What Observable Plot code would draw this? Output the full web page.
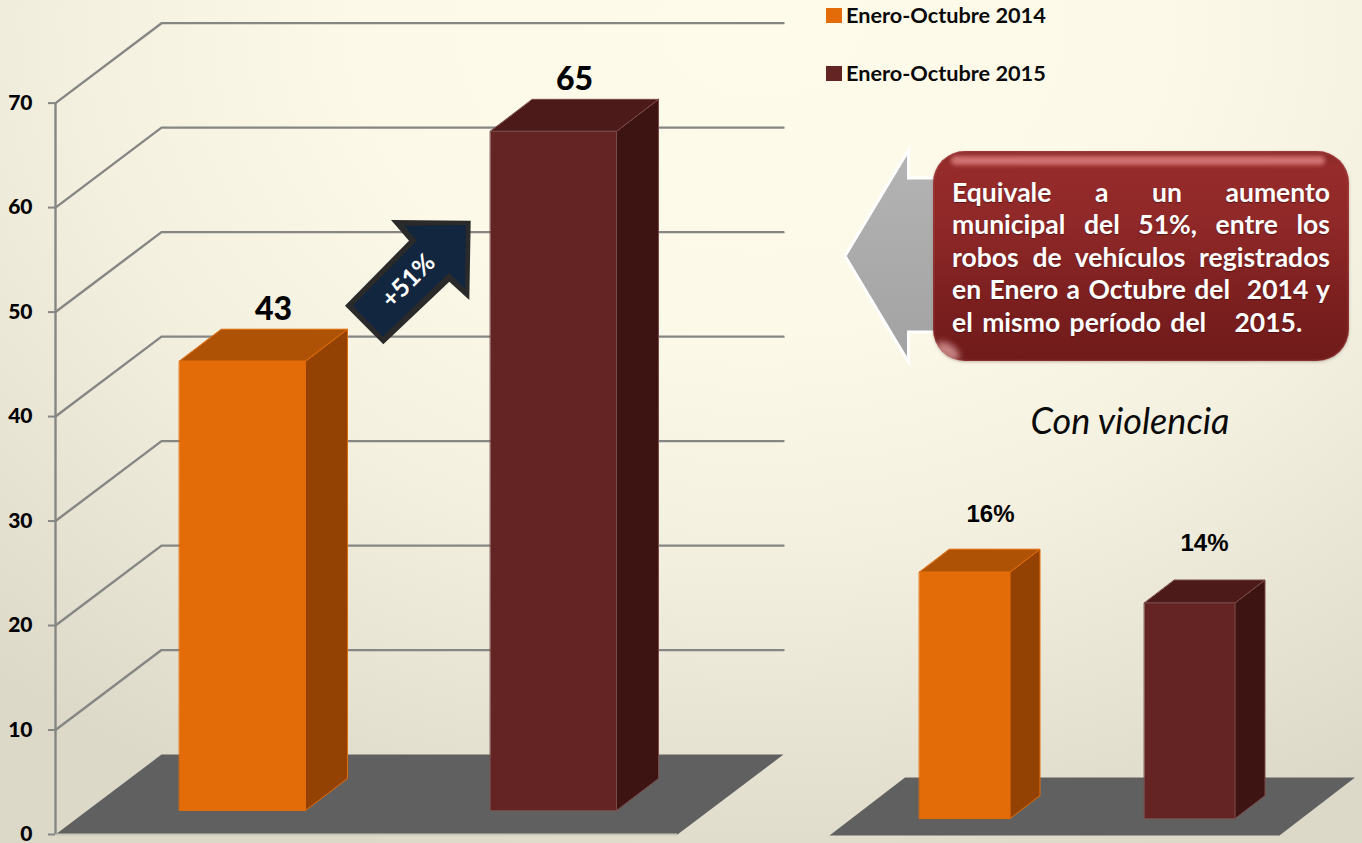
<!DOCTYPE html>
<html lang="es">
<head>
<meta charset="utf-8">
<script src="https://cdn.jsdelivr.net/npm/d3@7"></script>
<script src="https://cdn.jsdelivr.net/npm/@observablehq/plot@0.6"></script>
<style>
html,body{margin:0;padding:0}
#page{position:relative;width:1362px;height:843px;overflow:hidden;
 background:radial-gradient(ellipse 1150px 880px at 760px 20px,#fefbea 0%,#fdf9e8 35%,#f3f0e0 60%,#dcd9c9 100%);font-family:Lato,sans-serif}
#page>svg{position:absolute;left:0;top:0}
.legend{position:absolute;left:826px;display:flex;align-items:center;font:700 21.7px Lato,sans-serif;color:#0a0a0a;white-space:nowrap}
.legend i{display:block;width:16px;height:15px;margin-right:4px}
#box{position:absolute;left:933px;top:151px;width:416px;height:210px;border-radius:32px;box-sizing:border-box;
 background:linear-gradient(180deg,#8c2a2a 0%,#962b2b 8%,#8f2828 35%,#7a1e1e 75%,#701b1b 100%);
 box-shadow:inset 0 0 2px 1px #c0606066,0 1px 3px #8a7a6a88;overflow:hidden}
#box:before{content:"";position:absolute;left:18px;right:24px;top:5px;height:9px;border-radius:8px;background:#e88a8a;opacity:.75;filter:blur(2px)}
#box:after{content:"";position:absolute;left:2px;bottom:3px;width:26px;height:14px;border-radius:50%;background:#eab0b0;opacity:.7;filter:blur(3px);transform:rotate(35deg)}
#boxtext{position:absolute;left:952px;top:176px;width:378px;font:700 26.5px/32.4px Lato,sans-serif;word-spacing:-1.5px;color:#fff;white-space:pre-wrap;text-shadow:0 1px 1px #3c0d0d99}
#boxtext div{text-align:justify;text-align-last:justify}
#boxtext div:last-child{text-align:left;text-align-last:left;word-spacing:3px}
#title2{position:absolute;left:1000px;top:398px;width:260px;text-align:center;font:italic 400 36px Lato,sans-serif;color:#0a0a0a;white-space:nowrap}
</style>
</head>
<body>
<div id="page"></div>
<script>
// ---- data ----
const seriesNames = ["Enero-Octubre 2014", "Enero-Octubre 2015"];
const totals = [43, 65];
const violence = [16, 14];
const violenceLabels = ["16%", "14%"];
const yTicks = [0, 10, 20, 30, 40, 50, 60, 70];
const noteLines = [
  "Equivale a un aumento",
  "municipal del 51%, entre los",
  "robos de vehículos registrados",
  "en Enero a Octubre del  2014 y",
  "el mismo período del   2015."
];
const subtitle = "Con violencia";
const changeLabel = "+51%";

// ---- styles ----
const palette = [
  {front: "#e36c09", top: "#ae5205", side: "#934203", edge: "#e36c09"},
  {front: "#632423", top: "#4b1a19", side: "#3e1413", edge: "#7a4a48"}
];
const gridColor = "#868684", floorColor = "#606060";

// builds the three faces of a box as closed polygons, in scale units
function boxFaces(values, o) {
  const rows = [];
  values.forEach((v, i) => {
    const x0 = o.left[i], x1 = x0 + o.width, dx = o.dx, dy = o.dy, b = o.base, t = o.base + v, c = palette[i];
    const add = (face, fill, pts) => pts.forEach(([x, y]) => rows.push({id: i + face, fill, stroke: c.edge, x, y}));
    add("side", c.side, [[x1, b], [x1 + dx, b + dy], [x1 + dx, t + dy], [x1, t]]);
    add("top", c.top, [[x0, t], [x1, t], [x1 + dx, t + dy], [x0 + dx, t + dy]]);
    add("front", c.front, [[x0, b], [x1, b], [x1, t], [x0, t]]);
  });
  return rows;
}
const faceMark = rows => Plot.line(rows, {x: "x", y: "y", z: "id", fill: "fill", stroke: "stroke", strokeWidth: 1, curve: "linear-closed"});

// ---- main chart ----
const mainOpt = {left: [124, 435], width: 126, dx: 42, dy: 3.06, base: 2.3};
const mainLabelX = [218, 519];
const wallDx = 106, wallDy = 7.65, wallW = 728;
const gridRows = yTicks.filter(v => v > 0).flatMap(v => [
  {v, x: 0, y: v}, {v, x: wallDx, y: v + wallDy}, {v, x: wallW, y: v + wallDy}
]);
const floorRows = [[0, 0], [wallW - wallDx, 0], [wallW, wallDy], [wallDx, wallDy]].map(([x, y]) => ({x, y}));
const mainLabels = totals.map((v, i) => ({v, x: mainLabelX[i], y: v + mainOpt.base + mainOpt.dy}));

const mainPlot = Plot.plot({
  width: 1362, height: 843,
  marginLeft: 55, marginRight: 579, marginTop: 102.6, marginBottom: 9,
  x: {domain: [0, wallW], axis: null},
  y: {domain: [0, 70]},
  color: {type: "identity"},
  style: {background: "transparent", overflow: "visible", fontFamily: "Lato, sans-serif"},
  marks: [
    Plot.line(gridRows, {x: "x", y: "y", z: "v", stroke: gridColor, strokeWidth: 2.4}),
    Plot.line(floorRows, {x: "x", y: "y", fill: floorColor, curve: "linear-closed"}),
    Plot.ruleY([0], {x1: 0, x2: wallW - wallDx, stroke: "#c9c7b8", strokeWidth: 2}),
    Plot.ruleX([0], {y1: 0, y2: 70, stroke: gridColor, strokeWidth: 2.4}),
    Plot.axisY(yTicks, {tickSize: 7, tickPadding: 16, stroke: gridColor, strokeWidth: 2, fill: "#000", fontSize: 21, fontWeight: 900, label: null}),
    faceMark(boxFaces(totals, mainOpt)),
    Plot.text(mainLabels, {x: "x", y: "y", text: d => String(d.v), dy: -9, lineAnchor: "bottom", fontSize: 32, fontWeight: 900, fill: "#000"})
  ]
});

// ---- small chart ----
const smallOpt = {left: [90, 315], width: 90.5, dx: 30, dy: 1.49, base: 1.1};
const smallLabelX = [161, 375];
const smallLabelDrop = [0.13, 0];
const sFloorDx = 75.5, sFloorDy = 3.77, sFloorW = 450;
const sFloorRows = [[0, 0], [sFloorW, 0], [sFloorW + sFloorDx, sFloorDy], [sFloorDx, sFloorDy]].map(([x, y]) => ({x, y}));
const smallLabels = violence.map((v, i) => ({label: violenceLabels[i], x: smallLabelX[i], y: v + smallOpt.base + smallOpt.dy - smallLabelDrop[i]}));

const smallPlot = Plot.plot({
  width: 1362, height: 843,
  marginLeft: 829, marginRight: 83, marginTop: 588.6, marginBottom: 8,
  x: {domain: [0, sFloorW], axis: null},
  y: {domain: [0, 16], axis: null},
  color: {type: "identity"},
  style: {background: "transparent", overflow: "visible"},
  marks: [
    Plot.line(sFloorRows, {x: "x", y: "y", fill: floorColor, curve: "linear-closed"}),
    faceMark(boxFaces(violence, smallOpt)),
    Plot.text(smallLabels, {x: "x", y: "y", text: "label", dy: -29, lineAnchor: "bottom", fontSize: 24, fontWeight: 700, fontFamily: "Liberation Sans", fill: "#000"})
  ]
});

// ---- page assembly ----
const page = document.getElementById("page");
page.append(mainPlot, smallPlot);

seriesNames.forEach((name, i) => {
  const el = document.createElement("div");
  el.className = "legend";
  el.style.top = (i === 0 ? 2 : 60) + "px";
  const sw = document.createElement("i");
  sw.style.background = palette[i].front;
  el.append(sw, name);
  page.append(el);
});

// annotation shapes (not data)
const ns = "http://www.w3.org/2000/svg";
const overlay = document.createElementNS(ns, "svg");
overlay.setAttribute("width", 1362); overlay.setAttribute("height", 843);
overlay.innerHTML = `
 <defs><linearGradient id="ga" x1="0" y1="0" x2="0" y2="1"><stop offset="0" stop-color="#b4b4b4"/><stop offset="1" stop-color="#a2a2a2"/></linearGradient></defs>
 <polygon points="345,305.7 409,240.7 391,220 470.7,220.7 469.3,300 449.3,281.7 383.3,344.3" fill="#2a2a2a"/>
 <polygon points="352.7,305.7 417,240.7 404,225.7 466,225 465,289 449.3,272.7 382.7,336.7" fill="#12263f"/>
 <text transform="translate(409.5,282) rotate(-45)" text-anchor="middle" dominant-baseline="middle" font-family="Lato,sans-serif" font-weight="700" font-size="25" fill="#fff">${changeLabel}</text>
 <polygon points="845,256 908.5,150 908.5,178 960,178 960,332 908.5,332 908.5,362" fill="url(#ga)" stroke="#fff" stroke-width="3"/>`;
page.append(overlay);

const box = document.createElement("div"); box.id = "box"; page.append(box);
const boxText = document.createElement("div"); boxText.id = "boxtext";
noteLines.forEach(l => { const d = document.createElement("div"); d.textContent = l; boxText.append(d); });
page.append(boxText);
const t2 = document.createElement("div"); t2.id = "title2"; t2.textContent = subtitle; page.append(t2);
</script>
</body>
</html>
